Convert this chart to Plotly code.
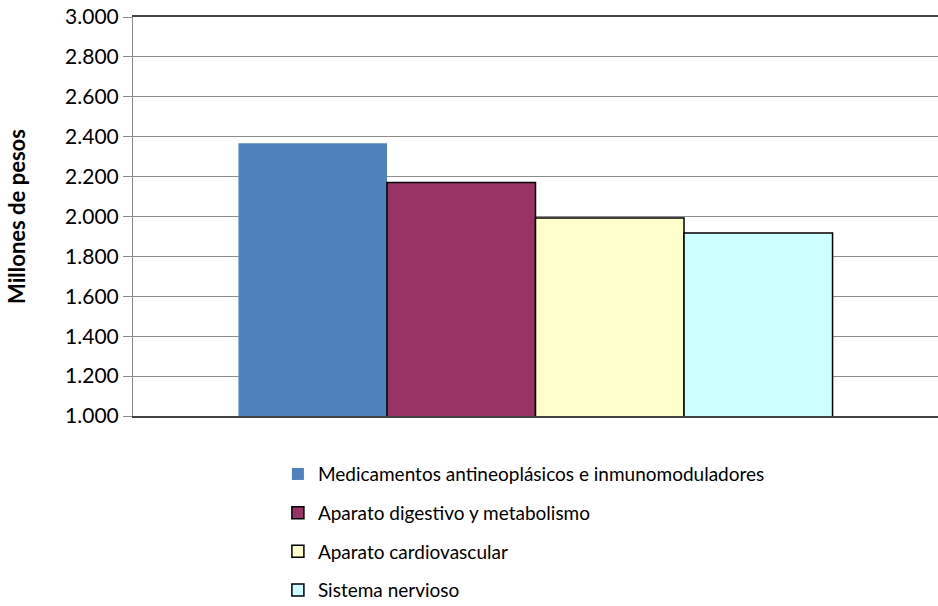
import plotly.graph_objects as go

categories = ["Total"]
series_names = [
    "Medicamentos antineoplásicos e inmunomoduladores",
    "Aparato digestivo y metabolismo",
    "Aparato cardiovascular",
    "Sistema nervioso",
]
series_values = [2367, 2170, 1993, 1917]
colors = ["#4F81BD", "#993366", "#FFFFCC", "#CCFFFF"]
outline = [0, 1.5, 1.5, 1.5]

fig = go.Figure()
for i, (name, val) in enumerate(zip(series_names, series_values)):
    fig.add_trace(go.Bar(
        x=categories, y=[val], name=name,
        marker=dict(color=colors[i], line=dict(color="#000000", width=outline[i])),
        legendgroup=f"g{i}",
    ))

fig.update_layout(
    width=938, height=606,
    margin=dict(l=133, r=0, t=17, b=190, autoexpand=False),
    paper_bgcolor="white", plot_bgcolor="white",
    barmode="group", bargap=0.262, bargroupgap=0,
    separators=",.",
    font=dict(family="Lato, Open Sans, sans-serif", color="#000000"),
    showlegend=True,
    legend=dict(
        x=0.180, y=-0.098, xanchor="left", yanchor="top",
        font=dict(size=19, color="#000000"),
        traceorder="grouped", tracegroupgap=11,
        itemwidth=30,
    ),
    xaxis=dict(
        showticklabels=False, ticks="",
        showline=True, linecolor="#444444", linewidth=2, mirror=True,
        showgrid=False,
    ),
    yaxis=dict(
        range=[1000, 3000], dtick=200, tickformat=",d",
        showgrid=True, gridcolor="#8c8c8c", gridwidth=1,
        showline=True, linecolor="#8c8c8c", linewidth=1,
        ticks="outside", ticklen=9, tickcolor="#8c8c8c",
        tickfont=dict(size=21, color="#000000"),
        title=dict(text="<b>Millones de pesos</b>", font=dict(size=22), standoff=33),
        zeroline=False,
    ),
)

fig.write_html(
    "out.html",
    config={"displayModeBar": False},
    post_script="document.body.style.margin='0';document.body.style.overflow='hidden';",
)
